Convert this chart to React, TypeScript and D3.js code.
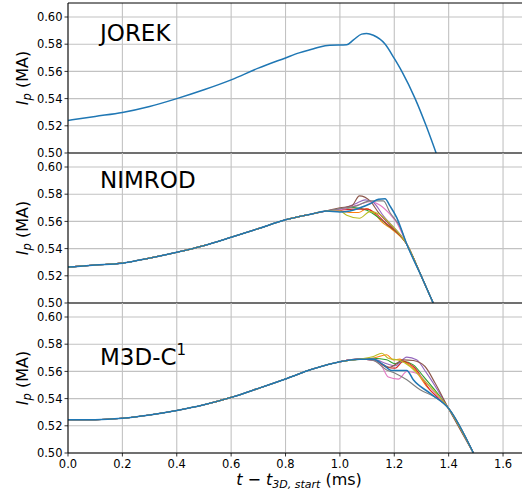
import React from 'react';
import * as d3 from 'd3';

const xTicks = [0, 0.2, 0.4, 0.6, 0.8, 1.0, 1.2, 1.4, 1.6];
const yTicks = [0.5, 0.52, 0.54, 0.56, 0.58, 0.6];
const panelNames = ['JOREK', 'NIMROD', 'M3D-C'];

const jorekT = [0, 0.1, 0.2, 0.3, 0.4, 0.5, 0.6, 0.7, 0.8, 0.85, 0.9, 0.926, 0.963, 1.025, 1.05, 1.08, 1.098, 1.123, 1.1667, 1.2, 1.2277, 1.2767, 1.3172, 1.3539];
const jorekV = [0.5239, 0.5269, 0.5298, 0.5342, 0.54, 0.5465, 0.5538, 0.5624, 0.5699, 0.5736, 0.5765, 0.578, 0.5792, 0.5796, 0.5832, 0.5874, 0.5879, 0.5866, 0.58, 0.5695, 0.56, 0.54, 0.52, 0.5];

// colour order of the traces (blue drawn last, on top)
const traceColors = ['#ff7f0e', '#2ca02c', '#d62728', '#9467bd', '#8c564b', '#e377c2', '#7f7f7f', '#bcbd22', '#1f77b4'];

const nimrodBaseT = [0, 0.1, 0.2, 0.3, 0.4, 0.5, 0.6, 0.7, 0.8, 0.9, 0.95];
const nimrodBaseV = [0.5264, 0.5279, 0.5293, 0.533, 0.5373, 0.5422, 0.5483, 0.5547, 0.5612, 0.5656, 0.5677];
const nimrodTailT = [1.246, 1.3, 1.343];
const nimrodTailV = [0.5432, 0.5195, 0.5];
const nimrodT = [
  [1.0, 1.037, 1.068, 1.099, 1.135, 1.154, 1.191],
  [1.0, 1.05, 1.099, 1.142, 1.172],
  [1.0, 1.05, 1.099, 1.135, 1.16],
  [1.0, 1.062, 1.093, 1.123, 1.16],
  [1.0, 1.043, 1.072, 1.111, 1.142, 1.172],
  [1.0, 1.074, 1.111, 1.148, 1.184, 1.209],
  [1.0, 1.062, 1.111, 1.16, 1.184, 1.221],
  [1.0, 1.025, 1.072, 1.111, 1.148, 1.191],
  [1.0, 1.037, 1.074, 1.111, 1.142, 1.166, 1.184, 1.209],
];
const nimrodV = [
  [0.5677, 0.5665, 0.5665, 0.5694, 0.564, 0.5596, 0.5542],
  [0.5685, 0.5702, 0.5682, 0.5628, 0.5579],
  [0.5682, 0.569, 0.569, 0.5653, 0.5604],
  [0.569, 0.5734, 0.5758, 0.5739, 0.564],
  [0.57, 0.5714, 0.5788, 0.5751, 0.5665, 0.56],
  [0.5685, 0.5726, 0.5744, 0.5719, 0.5653, 0.5591],
  [0.5694, 0.5714, 0.5751, 0.5751, 0.5665, 0.556],
  [0.5677, 0.5645, 0.5623, 0.5672, 0.565, 0.557],
  [0.567, 0.5677, 0.57, 0.573, 0.5763, 0.5767, 0.5714, 0.5628],
];

const m3dBaseT = [0, 0.1, 0.2, 0.3, 0.4, 0.5, 0.6, 0.7, 0.8, 0.9, 1.0, 1.074];
const m3dBaseV = [0.5244, 0.5245, 0.5256, 0.528, 0.5313, 0.5355, 0.5409, 0.5475, 0.5544, 0.5617, 0.5671, 0.569];
const m3dTailT = [1.399, 1.491];
const m3dTailV = [0.533, 0.5];
const m3dT = [
  [1.123, 1.172, 1.197, 1.221, 1.246, 1.27, 1.319],
  [1.123, 1.172, 1.203, 1.233, 1.27, 1.307],
  [1.123, 1.172, 1.203, 1.233, 1.27, 1.331],
  [1.123, 1.172, 1.203, 1.246, 1.282, 1.319],
  [1.123, 1.184, 1.233, 1.27, 1.313, 1.35],
  [1.123, 1.154, 1.178, 1.215, 1.246, 1.282, 1.344],
  [1.123, 1.172, 1.203, 1.246, 1.295, 1.356],
  [1.123, 1.154, 1.178, 1.221, 1.258, 1.295],
  [1.123, 1.16, 1.19, 1.246, 1.27, 1.331],
];
const m3dV = [
  [0.5697, 0.5722, 0.5685, 0.569, 0.566, 0.5624, 0.5489],
  [0.5697, 0.5685, 0.5656, 0.5673, 0.5648, 0.5563],
  [0.5685, 0.5631, 0.5624, 0.5673, 0.5636, 0.5465],
  [0.569, 0.5656, 0.5641, 0.5705, 0.5685, 0.5587],
  [0.5685, 0.5631, 0.5685, 0.568, 0.5636, 0.5514],
  [0.568, 0.5636, 0.5558, 0.5543, 0.5599, 0.5587, 0.5452],
  [0.568, 0.5611, 0.5587, 0.5538, 0.5465, 0.5403],
  [0.5709, 0.5734, 0.5697, 0.568, 0.5636, 0.5563],
  [0.569, 0.5648, 0.5607, 0.5607, 0.5538, 0.544],
];

const W = 522;
const H = 493;
const left = 68;
const pxPerMs = 271.9;
const panelH = 150;
const pxPerMA = 1360;
const panelTops = [3, 153, 303];
const font = 'DejaVu Sans, sans-serif';

const x = d3.scaleLinear().domain([0, 1.7]).range([left, left + 1.7 * pxPerMs]);

function zip(t: number[], v: number[]): [number, number][] {
  return t.map((d, i) => [d, v[i]]);
}

function buildTraces(baseT: number[], baseV: number[], ts: number[][], vs: number[][], tailT: number[], tailV: number[]) {
  return ts.map((t, i) => [...zip(baseT, baseV), ...zip(t, vs[i]), ...zip(tailT, tailV)]);
}

export default function App() {
  const panelsData: { lines: [number, number][][]; colors: string[] }[] = [
    { lines: [zip(jorekT, jorekV)], colors: ['#1f77b4'] },
    { lines: buildTraces(nimrodBaseT, nimrodBaseV, nimrodT, nimrodV, nimrodTailT, nimrodTailV), colors: traceColors },
    { lines: buildTraces(m3dBaseT, m3dBaseV, m3dT, m3dV, m3dTailT, m3dTailV), colors: traceColors },
  ];
  const plotRight = left + 1.7 * pxPerMs;

  return (
    <svg width={W} height={H} style={{ position: 'absolute', left: 0, top: 0, background: '#fff' }} fontFamily={font}>
      <defs>
        {panelTops.map((top, p) => (
          <clipPath id={`clip${p}`} key={p}>
            <rect x={left} y={top} width={plotRight - left} height={panelH} />
          </clipPath>
        ))}
      </defs>
      <rect x={0} y={0} width={W} height={H} fill="#fff" />
      {panelTops.map((top, p) => {
        const bottom = top + panelH;
        const y = d3.scaleLinear().domain([0.5, 0.5 + panelH / pxPerMA]).range([bottom, top]);
        const line = d3
          .line<[number, number]>()
          .x((d) => x(d[0]))
          .y((d) => y(d[1]))
          .curve(d3.curveMonotoneX);
        const pd = panelsData[p];
        return (
          <g key={p}>
            {xTicks.map((t) => (
              <line key={'gx' + t} x1={x(t)} x2={x(t)} y1={top} y2={bottom} stroke="#c2c2c2" strokeWidth={1.1} />
            ))}
            {yTicks.map((v) => (
              <line key={'gy' + v} x1={left} x2={plotRight} y1={y(v)} y2={y(v)} stroke="#c2c2c2" strokeWidth={1.1} />
            ))}
            <g clipPath={`url(#clip${p})`}>
              {pd.lines.map((l, i) => {
                const c = pd.colors[i];
                return (
                  <path
                    key={i}
                    d={line(l) || ''}
                    fill="none"
                    stroke={c}
                    strokeWidth={c === '#1f77b4' ? 1.5 : 1.1}
                    strokeLinejoin="round"
                  />
                );
              })}
            </g>
            <line x1={left} x2={left} y1={top} y2={bottom} stroke="#000" strokeWidth={1} />
            <line x1={left} x2={plotRight} y1={bottom} y2={bottom} stroke="#000" strokeWidth={1} />
            {p === 0 && <line x1={left} x2={plotRight} y1={top} y2={top} stroke="#000" strokeWidth={1} />}
            {yTicks.map((v) => (
              <g key={'ty' + v}>
                <line x1={left - 3.5} x2={left} y1={y(v)} y2={y(v)} stroke="#000" strokeWidth={0.8} />
                <text x={left - 5.5} y={y(v)} dy="0.36em" textAnchor="end" fontSize={11.5} fill="#000">
                  {v.toFixed(2)}
                </text>
              </g>
            ))}
            <text
              transform={`translate(28,${(top + bottom) / 2}) rotate(-90)`}
              textAnchor="middle"
              fontSize={16}
              fill="#000"
            >
              <tspan fontStyle="italic">I</tspan>
              <tspan fontStyle="italic" fontSize={11.5} dy={3}>p</tspan>
              <tspan dy={-3}> (MA)</tspan>
            </text>
            {p < 2 ? (
              <text x={100} y={top + (p === 0 ? 38 : 35)} fontSize={23} fill="#000">
                {panelNames[p]}
              </text>
            ) : (
              <text x={100} y={top + 62} fontSize={23} fill="#000">
                {panelNames[p]}
                <tspan fontSize={15} dy={-10}>1</tspan>
              </text>
            )}
            {p === 2 &&
              xTicks.map((t) => (
                <g key={'tx' + t}>
                  <line x1={x(t)} x2={x(t)} y1={bottom} y2={bottom + 3.5} stroke="#000" strokeWidth={0.8} />
                  <text x={x(t)} y={bottom + 15} textAnchor="middle" fontSize={11.5} fill="#000">
                    {t.toFixed(1)}
                  </text>
                </g>
              ))}
          </g>
        );
      })}
      <text x={299} y={485} textAnchor="middle" fontSize={16} fill="#000">
        <tspan fontStyle="italic">t</tspan>
        <tspan> − </tspan>
        <tspan fontStyle="italic">t</tspan>
        <tspan fontStyle="italic" fontSize={11} dy={3}>3D, start</tspan>
        <tspan dy={-3}> (ms)</tspan>
      </text>
    </svg>
  );
}
